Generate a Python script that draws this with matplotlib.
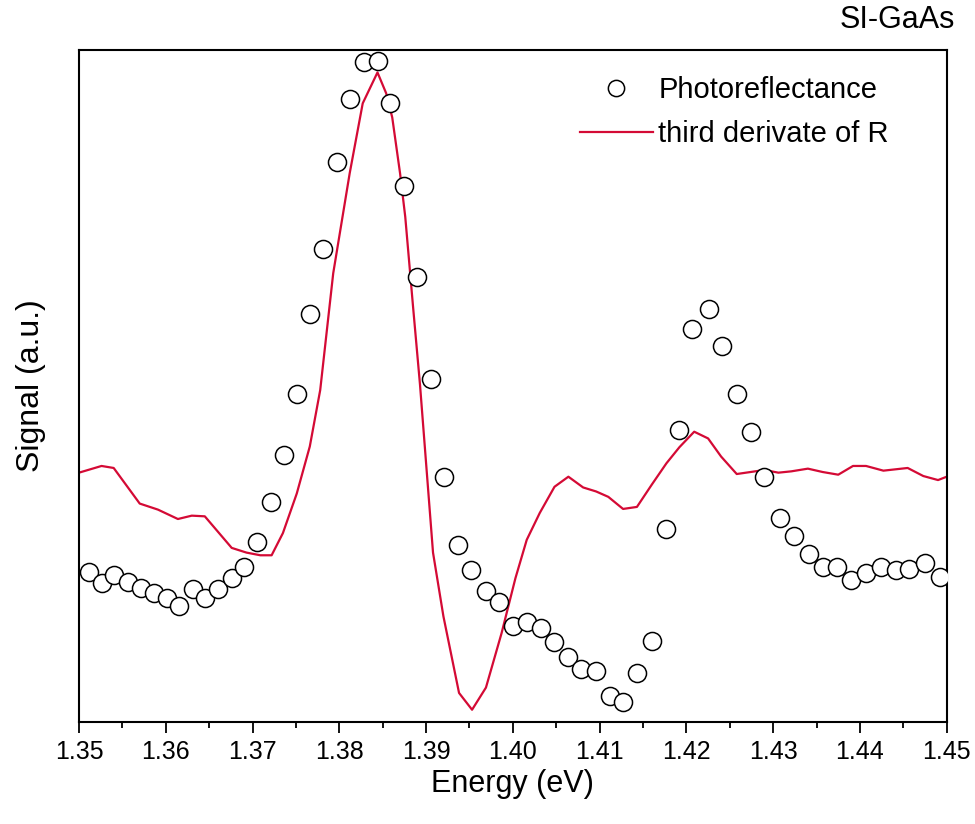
"""Photoreflectance vs third derivative of R for SI-GaAs."""

import matplotlib

matplotlib.use("Agg")
import matplotlib.pyplot as plt

plt.rcParams["font.family"] = ["Liberation Sans", "DejaVu Sans"]

# photoreflectance points (energy in eV, signal in a.u.)
pr_energy = [
    1.3512, 1.3526, 1.3540, 1.3556, 1.3571, 1.3586, 1.3601, 1.3615, 1.3631,
    1.3645, 1.3660, 1.3676, 1.3690, 1.3705, 1.3721, 1.3736, 1.3751, 1.3766,
    1.3781, 1.3797, 1.3812, 1.3828, 1.3845, 1.3859, 1.3874, 1.3890, 1.3906,
    1.3921, 1.3937, 1.3952, 1.3969, 1.3984, 1.4000, 1.4016, 1.4032, 1.4047,
    1.4064, 1.4079, 1.4096, 1.4112, 1.4127, 1.4143, 1.4160, 1.4176, 1.4192,
    1.4207, 1.4226, 1.4241, 1.4258, 1.4274, 1.4290, 1.4308, 1.4324, 1.4341,
    1.4357, 1.4374, 1.4390, 1.4407, 1.4424, 1.4442, 1.4457, 1.4475, 1.4492,
]
pr_signal = [
    22.3, 20.6, 21.9, 20.8, 20.0, 19.2, 18.5, 17.3, 19.8,
    18.5, 19.8, 21.4, 23.0, 26.8, 32.8, 39.7, 48.8, 60.7,
    70.4, 83.4, 92.7, 98.2, 98.4, 92.1, 79.8, 66.3, 51.0,
    36.5, 26.3, 22.6, 19.5, 17.8, 14.2, 14.8, 13.9, 11.9,
    9.6, 7.9, 7.6, 3.9, 3.0, 7.3, 12.1, 28.7, 43.4,
    58.5, 61.4, 56.0, 48.8, 43.1, 36.4, 30.4, 27.7, 25.0,
    23.0, 23.1, 21.1, 22.1, 23.0, 22.6, 22.7, 23.7, 21.6,
]

# third derivative of reflectance
d3_energy = [
    1.3500, 1.3526, 1.3540, 1.3570, 1.3591, 1.3614, 1.3630, 1.3645, 1.3676,
    1.3693, 1.3709, 1.3722, 1.3735, 1.3751, 1.3766, 1.3778, 1.3793, 1.3812,
    1.3827, 1.3844, 1.3854, 1.3861, 1.3870, 1.3876, 1.3885, 1.3893, 1.3908,
    1.3920, 1.3938, 1.3953, 1.3969, 1.3987, 1.4003, 1.4016, 1.4031, 1.4048,
    1.4064, 1.4081, 1.4096, 1.4110, 1.4127, 1.4143, 1.4160, 1.4177, 1.4192,
    1.4209, 1.4225, 1.4240, 1.4258, 1.4290, 1.4306, 1.4321, 1.4340, 1.4357,
    1.4375, 1.4392, 1.4407, 1.4427, 1.4455, 1.4473, 1.4490, 1.4500,
]
d3_signal = [
    37.1, 38.1, 37.8, 32.5, 31.6, 30.2, 30.7, 30.6, 25.9,
    25.2, 24.8, 24.8, 28.1, 34.0, 41.0, 49.4, 66.8, 81.7,
    92.1, 96.7, 93.6, 90.0, 81.7, 75.2, 61.8, 50.2, 25.2,
    15.7, 4.3, 1.8, 5.1, 13.2, 21.4, 27.1, 31.1, 35.0,
    36.5, 34.9, 34.3, 33.5, 31.7, 32.0, 35.3, 38.5, 40.9,
    43.2, 42.2, 39.5, 36.9, 37.5, 37.1, 37.3, 37.7, 37.2,
    36.8, 38.1, 38.1, 37.4, 37.8, 36.6, 36.0, 36.5,
]

RED = "#d40a35"

fig = plt.figure(figsize=(9.75, 8.24), dpi=100)
ax = fig.add_axes([0.081, 0.124, 0.890, 0.815])

ax.plot(d3_energy, d3_signal, color=RED, lw=1.6, label="third derivate of R", zorder=2)
ax.plot(pr_energy, pr_signal, ls="none", marker="o", ms=13, mfc="white",
        mec="black", mew=1.1, label="Photoreflectance", zorder=3)

ax.set_xlim(1.35, 1.45)
ax.set_ylim(0, 100)
ax.set_xticks([1.35 + 0.01 * i for i in range(11)])
ax.set_xticks([1.355 + 0.01 * i for i in range(10)], minor=True)
ax.set_xticklabels([f"{1.35 + 0.01 * i:.2f}" for i in range(11)], fontsize=18)
ax.set_yticks([])
ax.tick_params(axis="x", which="major", direction="out", length=8, width=1.3, pad=5)
ax.tick_params(axis="x", which="minor", direction="out", length=4.5, width=1.3)
for s in ax.spines.values():
    s.set_linewidth(1.5)

ax.set_xlabel("Energy (eV)", fontsize=22, labelpad=4)
ax.set_ylabel("Signal (a.u.)", fontsize=23, labelpad=24)
ax.text(1.009, 1.022, "SI-GaAs", transform=ax.transAxes, ha="right", va="bottom", fontsize=22)

handles, labels = ax.get_legend_handles_labels()
ax.legend(handles[::-1], labels[::-1], loc="upper left", bbox_to_anchor=(0.577, 0.962),
          frameon=False, fontsize=21, handlelength=2.5, handletextpad=0.2,
          borderpad=0, borderaxespad=0, labelspacing=0.55, markerscale=0.9)

fig.savefig("out.png", dpi=100)
